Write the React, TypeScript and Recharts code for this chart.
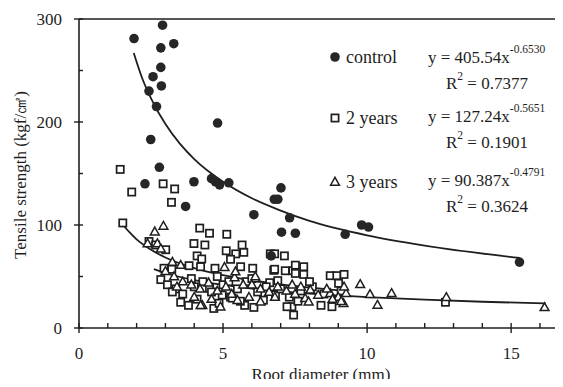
import React from "react"
import { ComposedChart, Scatter, Line, XAxis, YAxis, ReferenceLine } from "recharts"

// tick values
const xTicks = [0, 1, 2, 3, 4, 5, 6, 7, 8, 9, 10, 11, 12, 13, 14, 15, 16]
const yTicks = [0, 50, 100, 150, 200, 250, 300]

// measured points (root diameter mm, tensile strength kgf/cm2)
const controlPts = [
    { x: 1.91, y: 281 }, { x: 2.9, y: 294 }, { x: 2.84, y: 272 }, { x: 3.29, y: 276 },
    { x: 2.84, y: 253 }, { x: 2.57, y: 244 }, { x: 2.86, y: 235 }, { x: 2.43, y: 230 },
    { x: 2.69, y: 215 }, { x: 4.81, y: 199 }, { x: 2.49, y: 183 }, { x: 2.79, y: 156 },
    { x: 2.29, y: 140 }, { x: 3.99, y: 142 }, { x: 4.6, y: 145 }, { x: 4.74, y: 142 },
    { x: 4.88, y: 139 }, { x: 5.2, y: 141 }, { x: 3.7, y: 118 }, { x: 7.01, y: 136 },
    { x: 6.78, y: 125 }, { x: 6.9, y: 125 }, { x: 6.07, y: 110 }, { x: 7.31, y: 107 },
    { x: 7.03, y: 93 }, { x: 7.51, y: 92 }, { x: 6.67, y: 70 }, { x: 9.24, y: 91 },
    { x: 9.81, y: 100 }, { x: 10.05, y: 98 }, { x: 15.29, y: 64 },
]

const twoYearPts = [
    { x: 1.43, y: 154 }, { x: 1.83, y: 132 }, { x: 2.92, y: 140 }, { x: 3.32, y: 135 },
    { x: 3.21, y: 122 }, { x: 1.52, y: 102 }, { x: 4.19, y: 97 }, { x: 4.53, y: 92 },
    { x: 5.13, y: 91 }, { x: 2.43, y: 84 }, { x: 2.66, y: 80.6 }, { x: 3.01, y: 76 },
    { x: 3.99, y: 82 }, { x: 4.37, y: 80.6 }, { x: 4.1, y: 70 }, { x: 4.26, y: 67 },
    { x: 5.11, y: 75 }, { x: 5.44, y: 72 }, { x: 5.72, y: 73.5 }, { x: 5.66, y: 80.6 },
    { x: 5.26, y: 66.7 }, { x: 5.61, y: 59.5 }, { x: 6.03, y: 58 }, { x: 4.72, y: 58 },
    { x: 4.22, y: 59.5 }, { x: 3.82, y: 60.5 }, { x: 6.76, y: 56 }, { x: 6.62, y: 44 },
    { x: 6.64, y: 72 }, { x: 6.79, y: 72 }, { x: 7.13, y: 70 }, { x: 6.79, y: 57 },
    { x: 7.16, y: 55.6 }, { x: 7.42, y: 55.6 }, { x: 7.51, y: 61 }, { x: 7.8, y: 59.5 },
    { x: 7.51, y: 53 }, { x: 7.8, y: 52 }, { x: 8.72, y: 50.8 }, { x: 8.95, y: 50.8 },
    { x: 9.2, y: 52 }, { x: 9.01, y: 43.4 }, { x: 8.4, y: 22 }, { x: 8.78, y: 20.7 },
    { x: 7.45, y: 12.6 }, { x: 7.39, y: 20.7 }, { x: 7.22, y: 20.7 }, { x: 5.75, y: 22 },
    { x: 6.07, y: 20 }, { x: 4.68, y: 19 }, { x: 4.86, y: 24 }, { x: 3.8, y: 22 },
    { x: 3.53, y: 25 }, { x: 3.36, y: 38 }, { x: 2.84, y: 47 }, { x: 2.95, y: 58 },
    { x: 3.22, y: 57 }, { x: 3.07, y: 42 }, { x: 3.24, y: 35 }, { x: 5.26, y: 30 },
    { x: 4.97, y: 32 }, { x: 5.32, y: 29 }, { x: 4.53, y: 38.5 }, { x: 6.82, y: 32 },
    { x: 12.72, y: 25 }, { x: 4.0, y: 40 }, { x: 4.3, y: 45 }, { x: 4.6, y: 35 },
    { x: 5.0, y: 42 }, { x: 5.5, y: 38 }, { x: 5.8, y: 45 }, { x: 6.2, y: 35 },
    { x: 6.5, y: 40 }, { x: 7.0, y: 38 }, { x: 7.3, y: 30 }, { x: 7.7, y: 36 },
    { x: 8.1, y: 40 }, { x: 8.5, y: 33 }, { x: 9.1, y: 36 }, { x: 3.6, y: 33 },
    { x: 4.1, y: 28 }, { x: 5.6, y: 26 }, { x: 6.4, y: 27 }, { x: 7.6, y: 26 },
    { x: 8.0, y: 45 }, { x: 6.0, y: 48 }, { x: 4.8, y: 50 }, { x: 3.9, y: 48 },
    { x: 5.2, y: 45 }, { x: 6.9, y: 46 },
]

const threeYearPts = [
    { x: 2.93, y: 99 }, { x: 2.63, y: 93.5 }, { x: 2.38, y: 82 }, { x: 2.72, y: 82 },
    { x: 2.84, y: 77 }, { x: 3.24, y: 64 }, { x: 3.53, y: 61 }, { x: 4.28, y: 22 },
    { x: 4.91, y: 20.7 }, { x: 6.12, y: 48 }, { x: 5.4, y: 49 }, { x: 5.05, y: 59 },
    { x: 5.43, y: 54.7 }, { x: 6.12, y: 50 }, { x: 6.3, y: 25.5 }, { x: 4.22, y: 22 },
    { x: 9.76, y: 42.4 }, { x: 10.1, y: 32.7 }, { x: 10.36, y: 22.3 }, { x: 10.85, y: 33.7 },
    { x: 7.85, y: 28.8 }, { x: 7.97, y: 25.5 }, { x: 8.03, y: 37 }, { x: 9.27, y: 33.7 },
    { x: 9.18, y: 24 }, { x: 8.72, y: 33.7 }, { x: 12.75, y: 29.8 }, { x: 16.16, y: 20 },
    { x: 3.0, y: 55 }, { x: 3.3, y: 50 }, { x: 3.6, y: 45 }, { x: 3.9, y: 42 },
    { x: 4.2, y: 38 }, { x: 4.5, y: 44 }, { x: 4.8, y: 36 }, { x: 5.1, y: 40 },
    { x: 5.3, y: 33 }, { x: 5.7, y: 42 }, { x: 5.9, y: 30 }, { x: 6.3, y: 38 },
    { x: 6.6, y: 35 }, { x: 6.9, y: 40 }, { x: 7.2, y: 36 }, { x: 7.5, y: 33 },
    { x: 7.7, y: 40 }, { x: 8.3, y: 32 }, { x: 8.6, y: 38 }, { x: 9.0, y: 30 },
    { x: 9.2, y: 40 }, { x: 3.4, y: 40 }, { x: 4.0, y: 30 }, { x: 4.6, y: 28 },
    { x: 5.5, y: 27 }, { x: 6.0, y: 42 }, { x: 6.8, y: 30 }, { x: 7.4, y: 42 },
    { x: 8.8, y: 28 }, { x: 9.1, y: 26 },
]

// fitted curves
const controlFit = [
    { x: 1.9, y: 267 }, { x: 2.2, y: 242 }, { x: 2.5, y: 223 }, { x: 3, y: 198 },
    { x: 3.5, y: 179 }, { x: 4, y: 164 }, { x: 5, y: 142 }, { x: 6, y: 126 },
    { x: 7, y: 114 }, { x: 8, y: 104 }, { x: 10, y: 90 }, { x: 12, y: 80 }, { x: 15.3, y: 68 },
]
const twoYearFit = [
    { x: 1.5, y: 101 }, { x: 1.75, y: 93 }, { x: 2, y: 86 }, { x: 2.5, y: 76 },
    { x: 3, y: 68.4 }, { x: 4, y: 58.1 }, { x: 5, y: 51.3 }, { x: 6, y: 46.2 },
    { x: 7, y: 42.3 }, { x: 8, y: 39.3 }, { x: 9.2, y: 36.3 },
]
const threeYearFit = [
    { x: 2.6, y: 57.2 }, { x: 3, y: 53.4 }, { x: 4, y: 46.5 }, { x: 5, y: 41.8 },
    { x: 6, y: 38.3 }, { x: 7, y: 35.6 }, { x: 8, y: 33.4 }, { x: 10, y: 30 },
    { x: 12, y: 27.5 }, { x: 14, y: 25.5 }, { x: 16.2, y: 23.8 },
]

const font = "'Liberation Serif', 'Times New Roman', serif"
const ink = "#1e1e1e"

const Dot = (p: any) => <circle cx={p.cx} cy={p.cy} r={4.8} fill="#262626" />
const Sq = (p: any) => (
    <rect x={p.cx - 3.6} y={p.cy - 3.6} width={7.2} height={7.2} fill="#fff" stroke={ink} strokeWidth={1.7} />
)
const Tri = (p: any) => (
    <path
        d={`M${p.cx},${p.cy - 4.6} L${p.cx + 4.4},${p.cy + 3.2} L${p.cx - 4.4},${p.cy + 3.2} Z`}
        fill="#fff"
        stroke={ink}
        strokeWidth={1.5}
    />
)

const XTick = ({ x, y, payload }: any) => {
    const major = payload.value % 5 === 0
    return (
        <g>
            <line x1={x} x2={x} y1={y - 5} y2={major ? y + 5 : y} stroke={ink} strokeWidth={1.4} />
            {major && (
                <text x={x} y={y + 31} textAnchor="middle" fontSize={17} fontFamily={font} fill={ink}>
                    {payload.value}
                </text>
            )}
        </g>
    )
}

const YTick = ({ x, y, payload }: any) => {
    const major = payload.value % 100 === 0
    return (
        <g>
            <line x1={major ? x - 5 : x} x2={x + 4} y1={y} y2={y} stroke={ink} strokeWidth={1.4} />
            {major && (
                <text x={x - 17} y={y + 6} textAnchor="end" fontSize={17} fontFamily={font} fill={ink}>
                    {payload.value}
                </text>
            )}
        </g>
    )
}

const Eq = ({ y, a, b, r2 }: { y: number; a: string; b: string; r2: string }) => (
    <g fontFamily={font} fill={ink}>
        <text x={428} y={y} fontSize={17}>
            {`y = ${a}x`}
            <tspan fontSize={11.5} dy={-10}>{b}</tspan>
        </text>
        <text x={446} y={y + 26} fontSize={17}>
            R<tspan fontSize={11.5} dy={-9}>2</tspan>
            <tspan dy={9}>{` = ${r2}`}</tspan>
        </text>
    </g>
)

export default function App() {
    return (
        <div style={{ position: "relative", width: 563, height: 387, margin: -8, background: "#fff" }}>
            <ComposedChart width={563} height={387} margin={{ top: 19, right: 0, bottom: 29, left: 19 }}>
                <XAxis
                    type="number"
                    dataKey="x"
                    domain={[0, 16.8]}
                    ticks={xTicks}
                    tick={<XTick />}
                    tickLine={false}
                    tickSize={0}
                    tickMargin={0}
                    height={30}
                    axisLine={{ stroke: ink, strokeWidth: 1.6 }}
                    allowDataOverflow
                />
                <YAxis
                    type="number"
                    dataKey="y"
                    domain={[0, 300]}
                    ticks={yTicks}
                    tick={<YTick />}
                    tickLine={false}
                    tickSize={0}
                    tickMargin={0}
                    width={60}
                    axisLine={{ stroke: ink, strokeWidth: 1.6 }}
                    allowDataOverflow
                />
                <ReferenceLine y={300} stroke={ink} strokeWidth={1.6} />
                <Scatter data={twoYearPts} dataKey="y" shape={<Sq />} isAnimationActive={false} />
                <Scatter data={threeYearPts} dataKey="y" shape={<Tri />} isAnimationActive={false} />
                <Scatter data={controlPts} dataKey="y" shape={<Dot />} isAnimationActive={false} />
                <Line data={controlFit} dataKey="y" type="monotone" stroke={ink} strokeWidth={1.8} dot={false} isAnimationActive={false} />
                <Line data={twoYearFit} dataKey="y" type="monotone" stroke={ink} strokeWidth={1.8} dot={false} isAnimationActive={false} />
                <Line data={threeYearFit} dataKey="y" type="monotone" stroke={ink} strokeWidth={1.8} dot={false} isAnimationActive={false} />
            </ComposedChart>
            <svg width={563} height={387} style={{ position: "absolute", left: 0, top: 0, pointerEvents: "none" }}>
                <g fontFamily={font} fill={ink}>
                    <Dot cx={335} cy={57} />
                    <text x={346} y={63} fontSize={18}>control</text>
                    <Sq cx={335} cy={118} />
                    <text x={346} y={124} fontSize={18}>2 years</text>
                    <Tri cx={335} cy={182} />
                    <text x={346} y={188} fontSize={18}>3 years</text>
                    <text x={321} y={380} fontSize={17} textAnchor="middle">Root diameter (mm)</text>
                    <text x={20} y={175} fontSize={17} textAnchor="middle" dominantBaseline="central" transform="rotate(-90 20 175)">
                        Tensile strength (kgf/㎠)
                    </text>
                </g>
                <Eq y={63} a="405.54" b="-0.6530" r2="0.7377" />
                <Eq y={122} a="127.24" b="-0.5651" r2="0.1901" />
                <Eq y={186} a="90.387" b="-0.4791" r2="0.3624" />
            </svg>
        </div>
    )
}
